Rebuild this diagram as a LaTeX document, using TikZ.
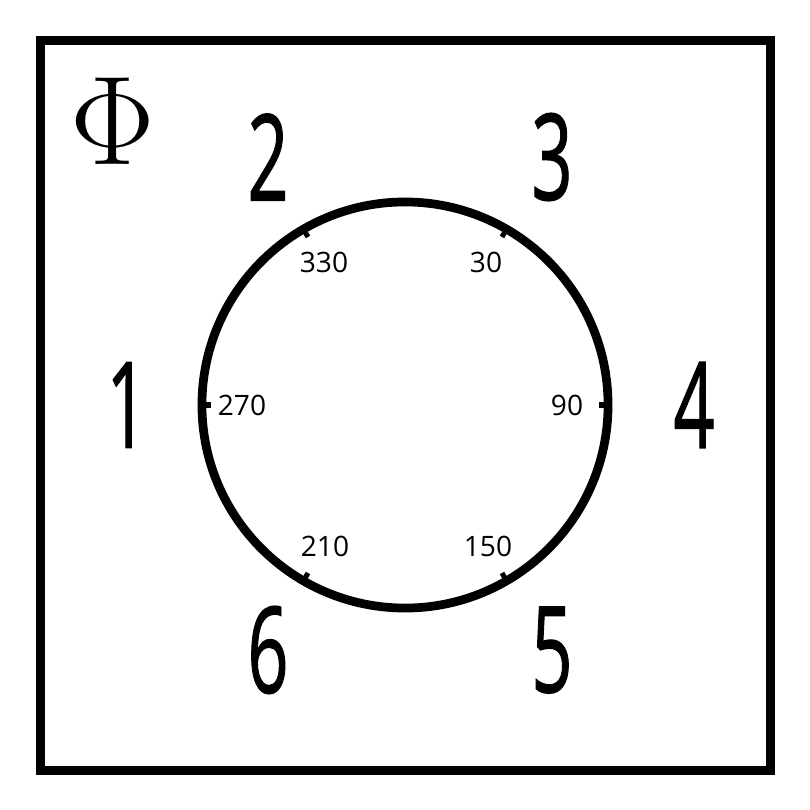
\documentclass[tikz,border=0pt]{standalone}
\usepackage{fontspec}
\newfontfamily\dialfont{Open Sans}
\newfontfamily\bigdialfont[FakeBold=1.2]{Open Sans}
\begin{document}
\begin{tikzpicture}[x=0.025cm, y=-0.025cm,
    big digit/.style={inner sep=0pt, font=\bigdialfont\fontsize{85}{85}\selectfont},
    angle label/.style={inner sep=0pt, font=\dialfont\fontsize{20}{20}\selectfont},
    tick mark/.style={line width=3.6pt}]

            \useasboundingbox (0,0) rectangle (810,810);
            \draw[line width=6.4pt] (40.5,40.5) rectangle (770.5,770.5);

            \node[inner sep=0pt, font=\fontsize{90}{90}\selectfont] (phi) at (113,121) {Φ};

            \node[circle, draw, line width=6.2pt, inner sep=0pt, minimum size=10.15cm] (dial) at (405,405) {};

            \draw[tick mark] (dial.center) ++(-60:194) -- ++(-60:12);
            \draw[tick mark] (dial.center) ++(0:194) -- ++(0:12);
            \draw[tick mark] (dial.center) ++(60:194) -- ++(60:12);
            \draw[tick mark] (dial.center) ++(120:194) -- ++(120:12);
            \draw[tick mark] (dial.center) ++(180:194) -- ++(180:12);
            \draw[tick mark] (dial.center) ++(240:194) -- ++(240:12);

            \node[angle label] (a330) at (324,262) {330};
            \node[angle label] (a30) at (486,262) {30};
            \node[angle label] (a270) at (242,405) {270};
            \node[angle label] (a90) at (567,405) {90};
            \node[angle label] (a210) at (325,546) {210};
            \node[angle label] (a150) at (488,546) {150};

            \node[big digit] (n1) at (127,405) {\scalebox{0.6}[1]{1}};
            \node[big digit] (n2) at (268,157) {\scalebox{0.6}[1]{2}};
            \node[big digit] (n3) at (552,157) {\scalebox{0.6}[1]{3}};
            \node[big digit] (n4) at (694,405) {\scalebox{0.6}[1]{4}};
            \node[big digit] (n5) at (552,650) {\scalebox{0.6}[1]{5}};
            \node[big digit] (n6) at (268,650) {\scalebox{0.6}[1]{6}};
        \end{tikzpicture}
\end{document}
